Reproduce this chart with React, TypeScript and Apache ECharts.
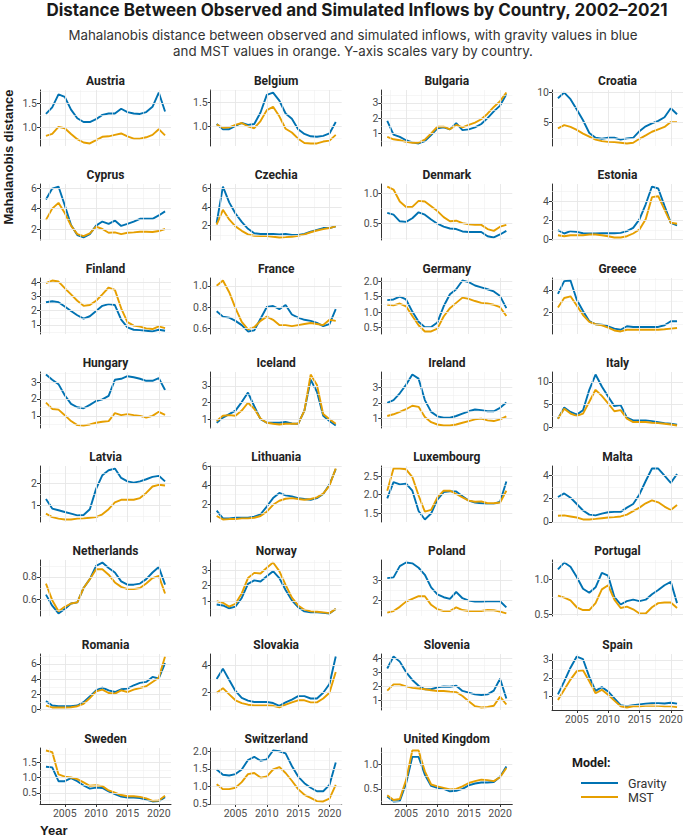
import React, { useEffect, useRef } from "react";
import * as echarts from "echarts";

const years = [2002, 2003, 2004, 2005, 2006, 2007, 2008, 2009, 2010, 2011, 2012, 2013, 2014, 2015, 2016, 2017, 2018, 2019, 2020, 2021];
const xMajor = [2005, 2010, 2015, 2020];
const xMinor = [2002.5, 2007.5, 2012.5, 2017.5];

const austriaGravity = [1.28, 1.42, 1.69, 1.64, 1.37, 1.19, 1.11, 1.11, 1.17, 1.26, 1.29, 1.29, 1.39, 1.32, 1.29, 1.28, 1.32, 1.43, 1.73, 1.33];
const austriaMst = [0.82, 0.86, 1.01, 0.98, 0.86, 0.75, 0.68, 0.66, 0.73, 0.8, 0.81, 0.84, 0.87, 0.81, 0.76, 0.76, 0.79, 0.84, 0.96, 0.83];
const austriaTicks = ["1.0", "1.5"];

const belgiumGravity = [1.05, 0.94, 0.94, 1.01, 1.07, 1.03, 1.05, 1.29, 1.66, 1.71, 1.54, 1.27, 1.16, 0.94, 0.84, 0.79, 0.78, 0.8, 0.85, 1.09];
const belgiumMst = [1.04, 0.97, 0.98, 1.03, 1.07, 1.0, 0.96, 1.11, 1.34, 1.41, 1.21, 0.95, 0.87, 0.74, 0.65, 0.64, 0.64, 0.68, 0.7, 0.82];
const belgiumTicks = ["1.0", "1.5"];

const bulgariaGravity = [1.82, 0.93, 0.78, 0.56, 0.42, 0.35, 0.51, 0.89, 1.33, 1.4, 1.27, 1.67, 1.22, 1.27, 1.4, 1.62, 2.0, 2.44, 2.82, 3.56];
const bulgariaMst = [0.78, 0.62, 0.56, 0.45, 0.4, 0.4, 0.6, 1.0, 1.44, 1.44, 1.27, 1.56, 1.4, 1.56, 1.71, 1.93, 2.29, 2.73, 3.11, 3.67];
const bulgariaTicks = ["1", "2", "3"];

const croatiaGravity = [9.06, 10.0, 8.9, 7.2, 5.4, 3.3, 2.5, 2.33, 2.5, 2.5, 2.2, 2.4, 2.5, 3.6, 4.4, 4.9, 5.3, 5.9, 7.4, 6.4];
const croatiaMst = [4.06, 4.6, 4.3, 3.8, 3.2, 2.7, 2.2, 1.94, 1.83, 1.78, 1.67, 1.56, 1.67, 2.33, 2.9, 3.5, 3.9, 4.3, 5.1, 5.1];
const croatiaTicks = ["5", "10"];

const cyprusGravity = [4.9, 5.97, 6.17, 4.33, 2.4, 1.4, 1.17, 1.5, 2.33, 2.73, 2.5, 2.83, 2.3, 2.5, 2.73, 3.0, 3.0, 3.0, 3.33, 3.73];
const cyprusMst = [2.9, 4.0, 4.57, 3.57, 2.33, 1.5, 1.3, 1.57, 2.23, 2.0, 1.63, 1.67, 1.5, 1.63, 1.67, 1.73, 1.73, 1.7, 1.8, 2.0];
const cyprusTicks = ["2", "4", "6"];

const czechiaGravity = [2.3, 6.2, 4.5, 3.3, 2.4, 1.66, 1.18, 1.1, 1.1, 1.1, 1.06, 1.1, 1.0, 1.0, 1.1, 1.36, 1.55, 1.74, 1.74, 1.92];
const czechiaMst = [2.1, 3.7, 2.67, 1.92, 1.44, 1.06, 0.91, 0.88, 0.88, 0.8, 0.73, 0.76, 0.8, 0.91, 1.06, 1.29, 1.48, 1.63, 1.74, 1.92];
const czechiaTicks = ["2", "4", "6"];

const denmarkGravity = [0.67, 0.64, 0.53, 0.52, 0.58, 0.68, 0.64, 0.56, 0.49, 0.44, 0.41, 0.4, 0.36, 0.35, 0.35, 0.35, 0.28, 0.26, 0.31, 0.37];
const denmarkMst = [1.11, 1.06, 0.86, 0.77, 0.77, 0.87, 0.86, 0.78, 0.7, 0.6, 0.53, 0.54, 0.5, 0.48, 0.47, 0.47, 0.4, 0.37, 0.44, 0.47];
const denmarkTicks = ["0.5", "1.0"];

const estoniaGravity = [0.98, 0.63, 0.87, 0.8, 0.66, 0.63, 0.63, 0.66, 0.66, 0.66, 0.7, 0.87, 1.22, 2.1, 3.66, 5.5, 5.3, 3.5, 1.74, 1.46];
const estoniaMst = [0.45, 0.35, 0.45, 0.45, 0.45, 0.52, 0.52, 0.45, 0.35, 0.22, 0.22, 0.35, 0.63, 1.05, 2.1, 4.4, 4.5, 3.1, 1.74, 1.64];
const estoniaTicks = ["0", "2", "4"];

const finlandGravity = [2.59, 2.66, 2.6, 2.29, 1.98, 1.68, 1.44, 1.61, 1.98, 2.34, 2.46, 2.4, 1.37, 0.83, 0.66, 0.63, 0.59, 0.54, 0.66, 0.59];
const finlandMst = [3.93, 4.12, 4.05, 3.58, 3.15, 2.7, 2.34, 2.4, 2.7, 3.15, 3.63, 3.46, 2.17, 1.2, 0.95, 0.88, 0.76, 0.71, 0.9, 0.78];
const finlandTicks = ["1", "2", "3", "4"];

const franceGravity = [0.76, 0.71, 0.7, 0.67, 0.63, 0.57, 0.58, 0.69, 0.8, 0.81, 0.78, 0.82, 0.73, 0.7, 0.68, 0.67, 0.65, 0.62, 0.64, 0.78];
const franceMst = [1.0, 1.05, 0.94, 0.79, 0.66, 0.59, 0.61, 0.67, 0.71, 0.68, 0.63, 0.63, 0.62, 0.63, 0.64, 0.65, 0.64, 0.63, 0.68, 0.67];
const franceTicks = ["0.6", "0.8", "1.0"];

const germanyGravity = [1.39, 1.41, 1.5, 1.41, 1.02, 0.69, 0.52, 0.52, 0.67, 1.19, 1.58, 1.74, 2.02, 1.97, 1.86, 1.8, 1.74, 1.67, 1.52, 1.13];
const germanyMst = [1.24, 1.22, 1.28, 1.19, 0.88, 0.58, 0.38, 0.38, 0.47, 0.86, 1.13, 1.3, 1.47, 1.43, 1.36, 1.3, 1.28, 1.24, 1.16, 0.88];
const germanyTicks = ["0.5", "1.0", "1.5", "2.0"];

const greeceGravity = [3.67, 4.8, 4.85, 3.15, 2.15, 1.24, 0.97, 0.94, 0.79, 0.58, 0.48, 0.79, 0.73, 0.73, 0.73, 0.73, 0.73, 0.88, 1.24, 1.24];
const greeceMst = [2.45, 3.3, 3.45, 2.64, 1.79, 1.18, 0.97, 0.88, 0.67, 0.42, 0.33, 0.48, 0.48, 0.48, 0.48, 0.48, 0.48, 0.52, 0.58, 0.64];
const greeceTicks = ["2", "4"];

const hungaryGravity = [3.45, 3.14, 2.88, 2.22, 1.71, 1.51, 1.45, 1.65, 1.88, 1.98, 2.18, 3.14, 3.2, 3.35, 3.29, 3.2, 3.08, 3.08, 3.24, 2.53];
const hungaryMst = [1.78, 1.41, 1.37, 1.04, 0.69, 0.45, 0.43, 0.49, 0.59, 0.65, 0.69, 1.16, 1.04, 1.1, 1.04, 1.0, 0.9, 1.0, 1.24, 1.06];
const hungaryTicks = ["1", "2", "3"];

const icelandGravity = [0.79, 1.1, 1.31, 1.52, 2.03, 2.6, 1.78, 1.0, 0.79, 0.79, 0.79, 0.84, 0.75, 0.73, 1.52, 3.37, 2.65, 1.21, 0.9, 0.63];
const icelandMst = [0.9, 1.21, 1.25, 1.21, 1.52, 1.99, 1.62, 1.04, 0.79, 0.73, 0.69, 0.73, 0.73, 0.73, 1.52, 3.68, 3.06, 1.31, 1.0, 0.73];
const icelandTicks = ["1", "2", "3"];

const irelandGravity = [2.01, 2.18, 2.61, 3.15, 3.8, 3.54, 2.18, 1.43, 1.15, 1.06, 1.06, 1.17, 1.32, 1.47, 1.58, 1.54, 1.47, 1.47, 1.69, 2.03];
const irelandMst = [1.17, 1.28, 1.43, 1.6, 1.82, 1.75, 1.11, 0.78, 0.63, 0.57, 0.57, 0.63, 0.74, 0.85, 0.96, 1.0, 0.89, 0.85, 0.96, 1.15];
const irelandTicks = ["1", "2", "3", "4"];

const italyGravity = [1.88, 4.36, 3.38, 2.78, 3.76, 8.27, 11.65, 9.0, 6.77, 4.66, 4.89, 2.1, 1.5, 1.5, 1.5, 1.35, 1.13, 0.9, 0.75, 0.53];
const italyMst = [1.88, 4.1, 3.0, 2.48, 3.0, 5.64, 8.27, 6.92, 5.26, 3.53, 3.76, 1.88, 1.13, 1.13, 1.13, 0.98, 0.9, 0.75, 0.6, 0.38];
const italyTicks = ["0", "5", "10"];

const latviaGravity = [1.29, 0.84, 0.76, 0.68, 0.6, 0.52, 0.54, 0.81, 1.76, 2.4, 2.63, 2.71, 2.27, 2.11, 2.05, 2.11, 2.21, 2.32, 2.37, 2.11];
const latviaMst = [0.6, 0.44, 0.37, 0.33, 0.33, 0.37, 0.38, 0.41, 0.44, 0.57, 0.81, 1.13, 1.25, 1.25, 1.25, 1.33, 1.57, 1.87, 1.95, 1.92];
const latviaTicks = ["1", "2"];

const lithuaniaGravity = [1.32, 0.5, 0.5, 0.57, 0.57, 0.57, 0.68, 0.93, 1.75, 2.64, 3.18, 2.93, 2.82, 2.64, 2.54, 2.46, 2.64, 3.07, 4.07, 5.68];
const lithuaniaMst = [0.75, 0.39, 0.43, 0.43, 0.5, 0.5, 0.57, 0.75, 1.21, 1.93, 2.36, 2.57, 2.64, 2.54, 2.46, 2.54, 2.71, 3.11, 3.96, 5.75];
const lithuaniaTicks = ["2", "4", "6"];

const luxembourgGravity = [1.9, 2.34, 2.28, 2.3, 2.11, 1.56, 1.33, 1.49, 1.87, 2.07, 2.09, 2.09, 1.96, 1.84, 1.79, 1.77, 1.75, 1.75, 1.81, 2.36];
const luxembourgMst = [2.11, 2.71, 2.71, 2.69, 2.48, 1.98, 1.54, 1.59, 1.93, 2.11, 2.11, 2.02, 1.93, 1.84, 1.81, 1.82, 1.77, 1.77, 1.79, 2.11];
const luxembourgTicks = ["1.5", "2.0", "2.5"];

const maltaGravity = [2.15, 2.46, 2.09, 1.54, 0.98, 0.62, 0.55, 0.71, 0.83, 0.86, 0.86, 1.23, 1.54, 2.37, 3.54, 4.62, 4.62, 4.0, 3.38, 4.15];
const maltaMst = [0.52, 0.55, 0.46, 0.37, 0.2, 0.2, 0.25, 0.31, 0.37, 0.4, 0.46, 0.62, 0.92, 1.23, 1.6, 1.85, 1.69, 1.32, 1.02, 1.45];
const maltaTicks = ["0", "2", "4"];

const netherlandsGravity = [0.64, 0.54, 0.47, 0.51, 0.56, 0.57, 0.7, 0.78, 0.9, 0.93, 0.88, 0.84, 0.76, 0.73, 0.73, 0.74, 0.78, 0.84, 0.89, 0.73];
const netherlandsMst = [0.74, 0.59, 0.49, 0.53, 0.56, 0.57, 0.7, 0.78, 0.87, 0.87, 0.82, 0.75, 0.71, 0.69, 0.69, 0.7, 0.74, 0.79, 0.81, 0.65];
const netherlandsTicks = ["0.6", "0.8"];

const norwayGravity = [0.8, 0.74, 0.56, 0.67, 1.22, 2.12, 2.34, 2.27, 2.6, 2.93, 2.49, 1.73, 1.07, 0.63, 0.36, 0.3, 0.3, 0.27, 0.23, 0.52];
const norwayMst = [1.02, 0.91, 0.67, 0.85, 1.51, 2.49, 2.82, 2.78, 3.15, 3.48, 2.93, 2.05, 1.24, 0.74, 0.47, 0.36, 0.34, 0.3, 0.25, 0.52];
const norwayTicks = ["1", "2", "3"];

const polandGravity = [3.12, 3.16, 3.72, 3.9, 3.86, 3.64, 3.29, 2.66, 2.31, 2.17, 2.09, 2.43, 2.12, 2.0, 1.95, 1.95, 1.97, 1.97, 1.97, 1.66];
const polandMst = [1.4, 1.48, 1.69, 1.95, 2.09, 2.22, 2.22, 1.79, 1.57, 1.48, 1.48, 1.66, 1.53, 1.48, 1.48, 1.48, 1.53, 1.52, 1.45, 1.36];
const polandTicks = ["2", "3"];

const portugalGravity = [1.15, 1.25, 1.19, 1.04, 0.87, 0.81, 0.89, 1.1, 1.06, 0.75, 0.64, 0.69, 0.71, 0.69, 0.71, 0.79, 0.85, 0.92, 0.97, 0.66];
const portugalMst = [0.77, 0.74, 0.7, 0.6, 0.56, 0.56, 0.66, 0.86, 0.92, 0.71, 0.59, 0.61, 0.57, 0.51, 0.51, 0.6, 0.66, 0.67, 0.67, 0.59];
const portugalTicks = ["0.5", "1.0"];

const romaniaGravity = [1.11, 0.53, 0.44, 0.44, 0.44, 0.53, 0.98, 1.73, 2.53, 2.89, 2.53, 2.31, 2.67, 2.76, 3.2, 3.51, 3.64, 4.3, 4.09, 6.1];
const romaniaMst = [0.53, 0.28, 0.28, 0.28, 0.31, 0.44, 0.76, 1.51, 2.4, 2.62, 2.18, 2.09, 2.53, 2.31, 2.62, 2.84, 3.07, 3.64, 4.18, 6.98];
const romaniaTicks = ["0", "2", "4", "6"];

const slovakiaGravity = [3.0, 3.75, 2.93, 2.13, 1.63, 1.43, 1.33, 1.33, 1.33, 1.25, 1.05, 1.3, 1.5, 1.75, 1.75, 1.58, 1.58, 2.0, 2.63, 4.63];
const slovakiaMst = [2.0, 2.33, 1.88, 1.45, 1.25, 1.13, 1.08, 1.08, 1.08, 1.05, 0.93, 1.13, 1.3, 1.45, 1.45, 1.3, 1.3, 1.58, 2.0, 3.5];
const slovakiaTicks = ["2", "4"];

const sloveniaGravity = [3.27, 4.12, 3.76, 3.02, 2.46, 2.05, 1.8, 1.8, 1.93, 2.0, 1.98, 2.05, 1.68, 1.56, 1.44, 1.39, 1.44, 1.7, 2.55, 1.15];
const sloveniaMst = [1.7, 2.15, 2.15, 2.0, 1.9, 1.85, 1.8, 1.73, 1.68, 1.68, 1.63, 1.6, 1.32, 0.95, 0.6, 0.51, 0.54, 0.63, 1.28, 0.72];
const sloveniaTicks = ["1", "2", "3", "4"];

const spainGravity = [1.09, 1.81, 2.57, 3.19, 3.04, 2.06, 1.28, 1.49, 1.25, 0.87, 0.49, 0.43, 0.49, 0.53, 0.57, 0.6, 0.6, 0.58, 0.62, 0.57];
const spainMst = [0.77, 1.34, 1.91, 2.38, 2.43, 1.81, 1.15, 1.34, 1.06, 0.74, 0.43, 0.36, 0.43, 0.43, 0.45, 0.47, 0.45, 0.43, 0.42, 0.38];
const spainTicks = ["1", "2", "3"];

const swedenGravity = [1.35, 1.33, 0.88, 0.88, 0.98, 0.88, 0.74, 0.64, 0.67, 0.66, 0.55, 0.46, 0.38, 0.35, 0.35, 0.33, 0.28, 0.22, 0.23, 0.36];
const swedenMst = [1.88, 1.83, 1.1, 1.03, 1.0, 0.95, 0.84, 0.73, 0.75, 0.72, 0.58, 0.51, 0.43, 0.39, 0.39, 0.37, 0.32, 0.24, 0.25, 0.41];
const swedenTicks = ["0.5", "1.0", "1.5"];

const switzerlandGravity = [1.48, 1.33, 1.31, 1.35, 1.48, 1.75, 1.84, 1.73, 1.77, 2.02, 2.0, 1.94, 1.58, 1.28, 1.09, 0.96, 0.86, 0.86, 1.04, 1.68];
const switzerlandMst = [1.06, 0.92, 0.92, 0.96, 1.12, 1.35, 1.38, 1.25, 1.28, 1.48, 1.55, 1.38, 1.16, 0.92, 0.76, 0.67, 0.58, 0.57, 0.65, 1.04];
const switzerlandTicks = ["0.5", "1.0", "1.5", "2.0"];

const ukGravity = [0.34, 0.24, 0.25, 0.61, 1.16, 1.16, 0.79, 0.56, 0.52, 0.5, 0.45, 0.46, 0.5, 0.57, 0.61, 0.63, 0.63, 0.64, 0.75, 0.96];
const ukMst = [0.37, 0.27, 0.29, 0.68, 1.29, 1.29, 0.86, 0.59, 0.55, 0.52, 0.49, 0.5, 0.55, 0.62, 0.66, 0.69, 0.68, 0.66, 0.74, 0.93];
const ukTicks = ["0.5", "1.0"];

const countries = [
  { name: "Austria", gravity: austriaGravity, mst: austriaMst, ticks: austriaTicks },
  { name: "Belgium", gravity: belgiumGravity, mst: belgiumMst, ticks: belgiumTicks },
  { name: "Bulgaria", gravity: bulgariaGravity, mst: bulgariaMst, ticks: bulgariaTicks },
  { name: "Croatia", gravity: croatiaGravity, mst: croatiaMst, ticks: croatiaTicks },
  { name: "Cyprus", gravity: cyprusGravity, mst: cyprusMst, ticks: cyprusTicks },
  { name: "Czechia", gravity: czechiaGravity, mst: czechiaMst, ticks: czechiaTicks },
  { name: "Denmark", gravity: denmarkGravity, mst: denmarkMst, ticks: denmarkTicks },
  { name: "Estonia", gravity: estoniaGravity, mst: estoniaMst, ticks: estoniaTicks },
  { name: "Finland", gravity: finlandGravity, mst: finlandMst, ticks: finlandTicks },
  { name: "France", gravity: franceGravity, mst: franceMst, ticks: franceTicks },
  { name: "Germany", gravity: germanyGravity, mst: germanyMst, ticks: germanyTicks },
  { name: "Greece", gravity: greeceGravity, mst: greeceMst, ticks: greeceTicks },
  { name: "Hungary", gravity: hungaryGravity, mst: hungaryMst, ticks: hungaryTicks },
  { name: "Iceland", gravity: icelandGravity, mst: icelandMst, ticks: icelandTicks },
  { name: "Ireland", gravity: irelandGravity, mst: irelandMst, ticks: irelandTicks },
  { name: "Italy", gravity: italyGravity, mst: italyMst, ticks: italyTicks },
  { name: "Latvia", gravity: latviaGravity, mst: latviaMst, ticks: latviaTicks },
  { name: "Lithuania", gravity: lithuaniaGravity, mst: lithuaniaMst, ticks: lithuaniaTicks },
  { name: "Luxembourg", gravity: luxembourgGravity, mst: luxembourgMst, ticks: luxembourgTicks },
  { name: "Malta", gravity: maltaGravity, mst: maltaMst, ticks: maltaTicks },
  { name: "Netherlands", gravity: netherlandsGravity, mst: netherlandsMst, ticks: netherlandsTicks },
  { name: "Norway", gravity: norwayGravity, mst: norwayMst, ticks: norwayTicks },
  { name: "Poland", gravity: polandGravity, mst: polandMst, ticks: polandTicks },
  { name: "Portugal", gravity: portugalGravity, mst: portugalMst, ticks: portugalTicks },
  { name: "Romania", gravity: romaniaGravity, mst: romaniaMst, ticks: romaniaTicks },
  { name: "Slovakia", gravity: slovakiaGravity, mst: slovakiaMst, ticks: slovakiaTicks },
  { name: "Slovenia", gravity: sloveniaGravity, mst: sloveniaMst, ticks: sloveniaTicks },
  { name: "Spain", gravity: spainGravity, mst: spainMst, ticks: spainTicks },
  { name: "Sweden", gravity: swedenGravity, mst: swedenMst, ticks: swedenTicks },
  { name: "Switzerland", gravity: switzerlandGravity, mst: switzerlandMst, ticks: switzerlandTicks },
  { name: "United Kingdom", gravity: ukGravity, mst: ukMst, ticks: ukTicks },
];

const TITLE = "Distance Between Observed and Simulated Inflows by Country, 2002\u20132021";
const SUB1 = "Mahalanobis distance between observed and simulated inflows, with gravity values in blue";
const SUB2 = "and MST values in orange. Y-axis scales vary by country.";

const BLUE = "#0072B2";
const ORANGE = "#E69F00";
const FONT = "Roboto, 'Noto Sans', sans-serif";
const HEAD_FONT = "Inter, Roboto, sans-serif";

const COL_LEFT = [40, 210.7, 381.3, 552];
const PLOT_W = 131;
const ROW_TOP0 = 90;
const ROW_STEP = 94;
const PLOT_H = 56;
const X_MIN = 2001.05;
const X_MAX = 2021.95;

function buildOption() {
  const grid: any[] = [];
  const xAxis: any[] = [];
  const yAxis: any[] = [];
  const series: any[] = [];
  const graphic: any[] = [];
  const n = countries.length;

  countries.forEach((c, i) => {
    const row = Math.floor(i / 4);
    const col = i % 4;
    const left = COL_LEFT[col];
    const top = ROW_TOP0 + row * ROW_STEP;
    const isBottom = i + 4 >= n;
    const all = c.gravity.concat(c.mst);
    const lo = Math.min(...all);
    const hi = Math.max(...all);
    const r = hi - lo;
    const yMin = lo - 0.05 * r;
    const yMax = hi + 0.05 * r;
    const tickNums = c.ticks.map(Number);
    const step = tickNums[1] - tickNums[0];
    const minor = tickNums
      .map((t) => t - step / 2)
      .concat([tickNums[tickNums.length - 1] + step / 2])
      .filter((v) => v > yMin && v < yMax);

    grid.push({ left, top, width: PLOT_W, height: PLOT_H, containLabel: false, outerBoundsMode: "none" });
    xAxis.push({
      type: "value",
      gridIndex: i,
      min: X_MIN,
      max: X_MAX,
      axisLine: { show: isBottom, onZero: false, lineStyle: { color: "#333", width: 1 } },
      axisTick: { show: isBottom, customValues: xMajor, length: 3, lineStyle: { color: "#333" } },
      axisLabel: {
        show: isBottom,
        customValues: xMajor,
        color: "#4d4d4d",
        fontSize: 10.5,
        fontFamily: FONT,
        margin: 4,
        formatter: (v: number) => String(Math.round(v)),
      },
      splitLine: { show: false },
    });
    yAxis.push({
      type: "value",
      gridIndex: i,
      min: yMin,
      max: yMax,
      axisLine: { show: true, onZero: false, lineStyle: { color: "#333", width: 1 } },
      axisTick: { show: true, customValues: tickNums, length: 3, lineStyle: { color: "#333" } },
      axisLabel: {
        show: true,
        customValues: tickNums,
        color: "#4d4d4d",
        fontSize: 10.5,
        fontFamily: FONT,
        margin: 3,
        formatter: (v: number) => {
          const t = c.ticks.find((s) => Math.abs(Number(s) - v) < 1e-9);
          return t !== undefined ? t : String(v);
        },
      },
      splitLine: { show: false },
    });

    const gridLines: any[] = [];
    xMinor.forEach((v) => gridLines.push({ xAxis: v, lineStyle: { color: "#f0f0f0", width: 0.6, type: "solid" } }));
    minor.forEach((v) => gridLines.push({ yAxis: v, lineStyle: { color: "#f0f0f0", width: 0.6, type: "solid" } }));
    xMajor.forEach((v) => gridLines.push({ xAxis: v, lineStyle: { color: "#e6e6e6", width: 0.9, type: "solid" } }));
    tickNums.forEach((v) => gridLines.push({ yAxis: v, lineStyle: { color: "#e6e6e6", width: 0.9, type: "solid" } }));

    series.push({
      type: "line",
      xAxisIndex: i,
      yAxisIndex: i,
      data: [],
      silent: true,
      z: 1,
      markLine: {
        silent: true,
        symbol: ["none", "none"],
        label: { show: false },
        emphasis: { disabled: true },
        animation: false,
        data: gridLines,
      },
    });
    series.push({
      type: "line",
      name: "Gravity",
      xAxisIndex: i,
      yAxisIndex: i,
      data: years.map((y, k) => [y, c.gravity[k]]),
      symbol: "none",
      showSymbol: false,
      lineStyle: { color: BLUE, width: 1.9 },
      itemStyle: { color: BLUE },
      z: 3,
    });
    series.push({
      type: "line",
      name: "MST",
      xAxisIndex: i,
      yAxisIndex: i,
      data: years.map((y, k) => [y, c.mst[k]]),
      symbol: "none",
      showSymbol: false,
      lineStyle: { color: ORANGE, width: 1.9 },
      itemStyle: { color: ORANGE },
      z: 4,
    });

    graphic.push({
      type: "text",
      x: left + PLOT_W / 2,
      y: top - 9,
      style: {
        text: c.name,
        fill: "#222",
        fontSize: 12,
        fontWeight: "bold",
        fontFamily: FONT,
        align: "center",
        verticalAlign: "middle",
      },
    });
  });

  graphic.push(
    {
      type: "text",
      x: 357,
      y: 10,
      style: { text: TITLE, fill: "#1a1a1a", fontSize: 17, fontWeight: "bold", fontFamily: HEAD_FONT, align: "center", verticalAlign: "middle" },
    },
    {
      type: "text",
      x: 353,
      y: 35,
      style: { text: SUB1, fill: "#333", fontSize: 13.3, fontFamily: HEAD_FONT, align: "center", verticalAlign: "middle" },
    },
    {
      type: "text",
      x: 353,
      y: 51,
      style: { text: SUB2, fill: "#333", fontSize: 13.3, fontFamily: HEAD_FONT, align: "center", verticalAlign: "middle" },
    },
    {
      type: "text",
      x: 8,
      y: 157,
      rotation: Math.PI / 2,
      style: { text: "Mahalanobis distance", fill: "#1a1a1a", fontSize: 13, fontWeight: "bold", fontFamily: "'Liberation Sans', Arial, sans-serif", align: "center", verticalAlign: "middle" },
    },
    {
      type: "text",
      x: 40,
      y: 830,
      style: { text: "Year", fill: "#1a1a1a", fontSize: 13, fontWeight: "bold", fontFamily: "'Liberation Sans', Arial, sans-serif", align: "left", verticalAlign: "middle" },
    },
    {
      type: "text",
      x: 572,
      y: 762,
      style: { text: "Model:", fill: "#1a1a1a", fontSize: 12.5, fontWeight: "bold", fontFamily: FONT, align: "left", verticalAlign: "middle" },
    }
  );

  return {
    animation: false,
    backgroundColor: "#ffffff",
    grid,
    xAxis,
    yAxis,
    series,
    graphic,
    legend: {
      data: ["Gravity", "MST"],
      orient: "vertical",
      left: 576,
      top: 771,
      icon: "rect",
      itemWidth: 37,
      itemHeight: 2,
      itemGap: 0,
      selectedMode: false,
      textStyle: { fontSize: 12.5, lineHeight: 14, color: "#333", fontFamily: FONT, padding: [0, 0, 0, 5] },
    },
  };
}

export default function App() {
  const ref = useRef<HTMLDivElement>(null);
  useEffect(() => {
    document.body.style.margin = "0";
    if (!ref.current) return;
    const chart = echarts.init(ref.current, undefined, { renderer: "svg" });
    chart.setOption(buildOption() as any);
    return () => {
      chart.dispose();
    };
  }, []);
  return <div ref={ref} style={{ width: 684, height: 836 }} />;
}
